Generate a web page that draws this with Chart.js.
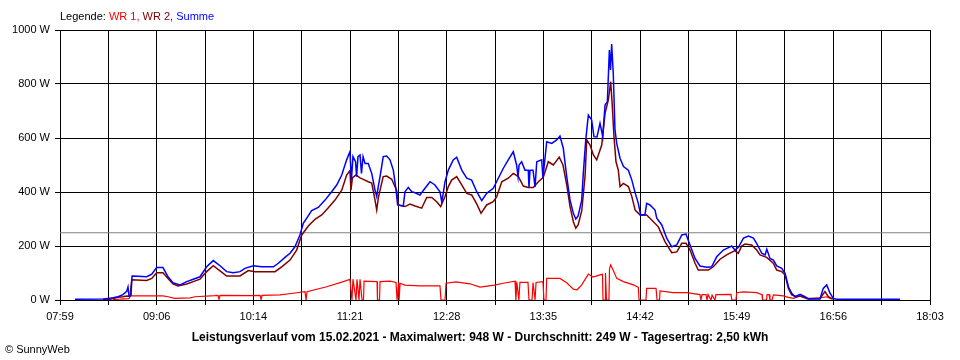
<!DOCTYPE html>
<html>
<head>
<meta charset="utf-8">
<script src="https://cdn.jsdelivr.net/npm/chart.js@4.4.1/dist/chart.umd.min.js"></script>
<style>
  html, body { margin: 0; padding: 0; background: #ffffff; }
  #wrap { position: relative; width: 960px; height: 360px; background: #ffffff; overflow: hidden; }
  canvas { position: absolute; left: 0; top: 0; }
  .txt { position: absolute; font-family: "Liberation Sans", Arial, sans-serif; font-size: 11px; line-height: 13px; white-space: nowrap; color: #000; }
</style>
</head>
<body>
<div id="wrap">
  <canvas id="c" width="960" height="360"></canvas>
  <div class="txt" id="legend" style="left:60px; top:10px;"></div>
  <div class="txt" id="copy" style="left:5px; top:343px;"></div>
</div>
<script>
// ---------- DATA (minutes after 07:59, values in W) ----------
const tickLabels = ["07:59", "09:06", "10:14", "11:21", "12:28", "13:35", "14:42", "15:49", "16:56", "18:03"];
const spanMinutes = 604;          // 07:59 .. 18:03
const gridIntervals = 18;
const averageW = 249;
const legendParts = [["Legende: ", "#000000"], ["WR 1, ", "#ff0000"], ["WR 2, ", "#800000"], ["Summe", "#0000ff"]];
const titleText = "Leistungsverlauf vom 15.02.2021 - Maximalwert: 948 W - Durchschnitt: 249 W - Tagesertrag: 2,50 kWh";
const copyText = "© SunnyWeb";

const summeMin = [
  10.4, 29.9, 33.3, 36.8, 40.3, 43.7, 46.3, 47.2, 47.9, 49.3,
  50.0, 50.9, 60.2, 63.7, 67.1, 71.5, 75.0, 78.4, 83.3, 88.0,
  92.5, 97.2, 101.8, 106.4, 111.1, 115.7, 120.3, 125.0, 128.4, 134.2,
  140.0, 148.1, 151.6, 156.2, 159.7, 163.1, 166.6, 168.9, 171.3, 174.7,
  179.3, 184.0, 188.6, 192.1, 195.6, 199.0, 201.3, 202.3, 203.4, 205.2,
  205.9, 206.9, 208.3, 209.3, 210.4, 211.8, 214.0, 216.4, 218.7, 219.9,
  220.8, 222.2, 224.4, 226.8, 229.1, 231.4, 233.3, 234.4, 238.3, 239.5,
  241.8, 244.2, 246.5, 249.9, 253.4, 256.9, 260.3, 263.8, 265.0, 265.9,
  267.3, 269.6, 273.0, 275.4, 278.9, 282.4, 285.8, 289.3, 292.8, 296.2,
  300.8, 304.3, 307.8, 311.2, 314.7, 317.0, 318.0, 318.7, 320.5, 322.8,
  325.1, 325.6, 326.3, 328.4, 329.8, 331.0, 334.4, 335.3, 337.9, 341.4,
  344.8, 347.1, 349.4, 351.8, 354.1, 356.4, 358.1, 359.7, 362.2, 363.3,
  365.0, 366.8, 369.1, 370.7, 372.8, 374.9, 376.8, 378.4, 380.0, 381.4,
  382.2, 383.0, 384.1, 385.3, 386.5, 388.8, 391.2, 394.6, 397.0, 399.4,
  401.5, 403.1, 406.1, 407.3, 409.6, 413.1, 414.3, 417.8, 421.2, 424.7,
  428.2, 431.7, 434.6, 437.4, 440.9, 444.3, 449.0, 452.4, 455.9, 460.5,
  465.2, 466.3, 468.6, 471.0, 474.5, 478.0, 481.4, 484.2, 487.2, 489.5,
  490.7, 492.9, 495.3, 497.6, 501.1, 503.4, 505.7, 508.0, 510.3, 513.8,
  517.2, 519.5, 527.6, 529.9, 532.3, 534.6, 536.9, 538.8, 583.2
];
const summeW = [
  3, 4, 6, 8, 12, 20, 32, 48, 15, 18,
  88, 89, 86, 96, 120, 120, 86, 64, 56, 68,
  77, 86, 123, 146, 127, 105, 101, 105, 117, 127,
  123, 123, 136, 158, 173, 197, 241, 284, 303, 331,
  343, 370, 401, 426, 463, 519, 549, 444, 531, 512,
  457, 531, 537, 469, 531, 506, 506, 469, 407, 383,
  415, 457, 531, 533, 519, 481, 407, 352, 348, 401,
  417, 401, 397, 389, 414, 438, 426, 401, 364, 389,
  438, 481, 519, 529, 481, 451, 444, 401, 368, 395,
  414, 451, 488, 519, 549, 500, 457, 500, 512, 481,
  481, 417, 481, 481, 419, 512, 519, 452, 586, 580,
  593, 607, 562, 457, 370, 321, 300, 311, 370, 469,
  593, 685, 667, 605, 604, 654, 605, 722, 734, 926,
  852, 948, 840, 630, 580, 525, 494, 481, 444, 395,
  358, 315, 315, 358, 352, 333, 303, 278, 229, 197,
  204, 241, 244, 204, 154, 126, 121, 123, 160, 185,
  197, 200, 185, 195, 229, 237, 229, 204, 173, 167,
  188, 154, 148, 126, 117, 99, 49, 25, 12, 21,
  12, 4, 4, 43, 56, 25, 6, 3, 3
];

const wr2Min = [
  29.9, 34.7, 40.3, 43.7, 46.3, 48.6, 49.8, 60.2, 63.7, 67.1,
  71.5, 75.0, 78.4, 81.9, 88.0, 92.5, 97.2, 101.8, 106.4, 111.1,
  115.7, 125.0, 130.7, 135.4, 149.3, 153.9, 159.7, 164.3, 167.8, 172.4,
  177.0, 181.7, 186.3, 190.9, 195.6, 199.0, 201.3, 202.0, 203.0, 205.5,
  208.3, 210.6, 214.0, 216.4, 217.6, 218.7, 219.9, 221.0, 222.2, 224.4,
  226.8, 230.3, 233.7, 234.9, 239.5, 243.0, 246.5, 251.1, 254.6, 258.1,
  261.5, 264.3, 267.3, 269.6, 271.9, 275.4, 278.9, 282.4, 285.8, 289.3,
  292.3, 296.2, 300.8, 303.2, 306.7, 311.2, 314.7, 318.2, 321.7, 325.1,
  328.6, 332.1, 335.5, 339.0, 342.5, 346.6, 349.2, 351.8, 354.1, 356.4,
  358.1, 359.7, 362.2, 364.5, 365.7, 368.0, 370.3, 372.6, 376.1, 378.4,
  380.7, 382.3, 383.4, 384.6, 386.0, 387.6, 388.8, 391.1, 394.6, 397.0,
  399.3, 402.7, 407.3, 410.8, 415.4, 420.0, 424.7, 428.2, 431.7, 434.6,
  437.4, 440.9, 443.1, 450.1, 453.6, 458.2, 462.8, 468.6, 470.9, 473.3,
  475.6, 480.2, 483.7, 486.0, 490.6, 495.2, 497.6, 501.1, 503.4, 505.7,
  508.0, 511.5, 513.8, 518.4, 527.6, 531.1, 533.4, 536.7
];
const wr2W = [
  2, 3, 10, 12, 15, 13, 75, 72, 80, 101,
  101, 80, 60, 52, 59, 68, 77, 105, 127, 108,
  89, 89, 109, 105, 105, 123, 148, 185, 241, 274,
  299, 315, 342, 370, 407, 463, 479, 407, 452, 463,
  452, 447, 438, 433, 401, 370, 333, 378, 407, 457,
  459, 447, 407, 352, 346, 355, 348, 340, 380, 380,
  364, 346, 383, 420, 444, 457, 426, 395, 389, 356,
  321, 352, 364, 383, 438, 451, 469, 457, 422, 417,
  417, 438, 454, 512, 500, 529, 500, 426, 346, 290,
  266, 278, 330, 457, 593, 574, 537, 519, 574, 691,
  741, 809, 722, 605, 512, 481, 420, 432, 420, 383,
  333, 315, 315, 296, 271, 216, 175, 178, 210, 210,
  185, 136, 111, 111, 123, 151, 167, 183, 173, 200,
  207, 204, 185, 167, 158, 136, 111, 105, 93, 43,
  19, 12, 15, 6, 6, 31, 12, 3
];

const wr1Min = [
  36.8, 41.7, 47.9, 48.6, 62.5, 71.5, 75.0, 79.8, 90.3, 93.7,
  107.6, 109.7, 110.4, 111.1, 131.9, 138.9, 139.6, 140.3, 152.7, 161.8,
  170.1, 170.8, 171.5, 185.2, 196.7, 201.3, 202.7, 203.4, 205.5, 206.2,
  207.6, 208.3, 209.7, 210.7, 211.1, 220.1, 220.4, 221.8, 222.2, 229.1,
  233.3, 234.0, 235.1, 235.4, 236.1, 239.5, 249.9, 263.8, 264.5, 267.3,
  268.0, 274.9, 284.6, 291.6, 301.6, 308.6, 315.9, 316.5, 317.2, 318.6,
  319.3, 324.9, 325.6, 327.7, 328.4, 329.8, 330.5, 335.3, 336.0, 337.4,
  337.9, 347.1, 351.8, 356.4, 359.0, 362.2, 366.8, 370.0, 374.9, 376.6,
  377.0, 378.4, 378.7, 379.4, 381.1, 381.5, 382.3, 384.1, 386.5, 391.1,
  398.1, 401.5, 402.0, 406.8, 407.3, 413.8, 414.5, 416.2, 416.6, 425.8,
  435.1, 444.3, 445.0, 445.7, 448.5, 449.2, 449.9, 452.0, 452.7, 454.7,
  455.4, 465.8, 466.5, 469.3, 469.8, 474.5, 483.7, 487.4, 487.7, 490.5,
  490.9, 492.3, 492.9, 494.3, 495.3, 502.2, 505.7, 509.2, 513.8, 519.3,
  527.6, 532.3, 535.8
];
const wr1W = [
  2, 3, 5, 15, 15, 15, 12, 6, 8, 12,
  16, 17, 2, 17, 16, 17, 2, 17, 19, 25,
  31, 0, 31, 49, 68, 77, 0, 77, 0, 77,
  0, 77, 0, 0, 70, 68, 0, 0, 68, 70,
  65, 0, 65, 0, 62, 55, 52, 52, 0, 0,
  62, 67, 60, 48, 55, 63, 70, 0, 65, 0,
  65, 65, 0, 0, 65, 0, 65, 68, 0, 0,
  80, 80, 64, 40, 38, 56, 96, 85, 93, 95,
  0, 0, 100, 0, 0, 115, 130, 110, 80, 68,
  56, 47, 0, 0, 43, 43, 0, 0, 34, 27,
  27, 20, 0, 20, 20, 0, 20, 0, 18, 0,
  20, 21, 0, 0, 27, 30, 27, 20, 0, 0,
  20, 20, 0, 0, 19, 15, 10, 6, 15, 4,
  8, 12, 3
];

// ---------- BUILD ----------
function pts(xs, ys) { return xs.map((x, i) => ({ x: x, y: ys[i] })); }
const gridValues = Array.from({ length: gridIntervals + 1 }, (_, i) => i * spanMinutes / gridIntervals);

const legendEl = document.getElementById('legend');
legendParts.forEach(([t, c]) => {
  const s = document.createElement('span');
  s.textContent = t; s.style.color = c; s.style.whiteSpace = 'pre';
  legendEl.appendChild(s);
});
document.getElementById('copy').textContent = copyText;

const FONT = "'Liberation Sans', Arial, sans-serif";

new Chart(document.getElementById('c'), {
  type: 'line',
  data: {
    datasets: [
      { label: 'Summe', data: pts(summeMin, summeW), borderColor: '#0000ff', borderWidth: 1.5, pointRadius: 0, tension: 0, fill: false, order: 0 },
      { label: 'WR 2', data: pts(wr2Min, wr2W), borderColor: '#800000', borderWidth: 1.5, pointRadius: 0, tension: 0, fill: false, order: 1 },
      { label: 'WR 1', data: pts(wr1Min, wr1W), borderColor: '#ff0000', borderWidth: 1.2, pointRadius: 0, tension: 0, fill: false, order: 2 },
      { label: 'Durchschnitt', data: [{ x: 0, y: averageW }, { x: spanMinutes, y: averageW }], borderColor: '#808080', borderWidth: 1, pointRadius: 0, tension: 0, fill: false, order: 3 }
    ]
  },
  options: {
    responsive: false,
    animation: false,
    events: [],
    layout: { padding: { left: 0, right: 0, top: 30, bottom: 15.6 } },
    plugins: {
      legend: { display: false },
      tooltip: { enabled: false },
      title: {
        display: true, position: 'bottom', text: titleText, color: '#000000',
        font: { family: FONT, size: 12, weight: 'bold', lineHeight: 1.2 },
        padding: { top: 6, bottom: 0 }
      }
    },
    scales: {
      x: {
        type: 'linear', min: 0, max: spanMinutes,
        afterBuildTicks: (s) => { s.ticks = gridValues.map(v => ({ value: v })); },
        afterFit: (s) => { s.height = 24; },
        grid: { color: '#000000', lineWidth: 1, tickLength: 5, tickColor: '#000000' },
        border: { color: '#000000', width: 1 },
        ticks: {
          autoSkip: false, maxRotation: 0, minRotation: 0, padding: 5, color: '#000000',
          font: { family: FONT, size: 11 },
          callback: (v, i) => (i % 2 === 0 ? tickLabels[i / 2] : '')
        }
      },
      y: {
        min: 0, max: 1000,
        afterFit: (s) => { s.width = 60; },
        grid: { color: '#000000', lineWidth: 1, tickLength: 5, tickColor: '#000000' },
        border: { color: '#000000', width: 1 },
        ticks: {
          stepSize: 200, padding: 5, color: '#000000',
          font: { family: FONT, size: 11 },
          callback: (v) => v + ' W'
        }
      },
      yRight: {
        position: 'right', min: 0, max: 1000,
        afterFit: (s) => { s.width = 30; },
        grid: { display: false, drawOnChartArea: false },
        border: { display: false },
        ticks: { display: false }
      }
    }
  }
});
</script>
</body>
</html>
